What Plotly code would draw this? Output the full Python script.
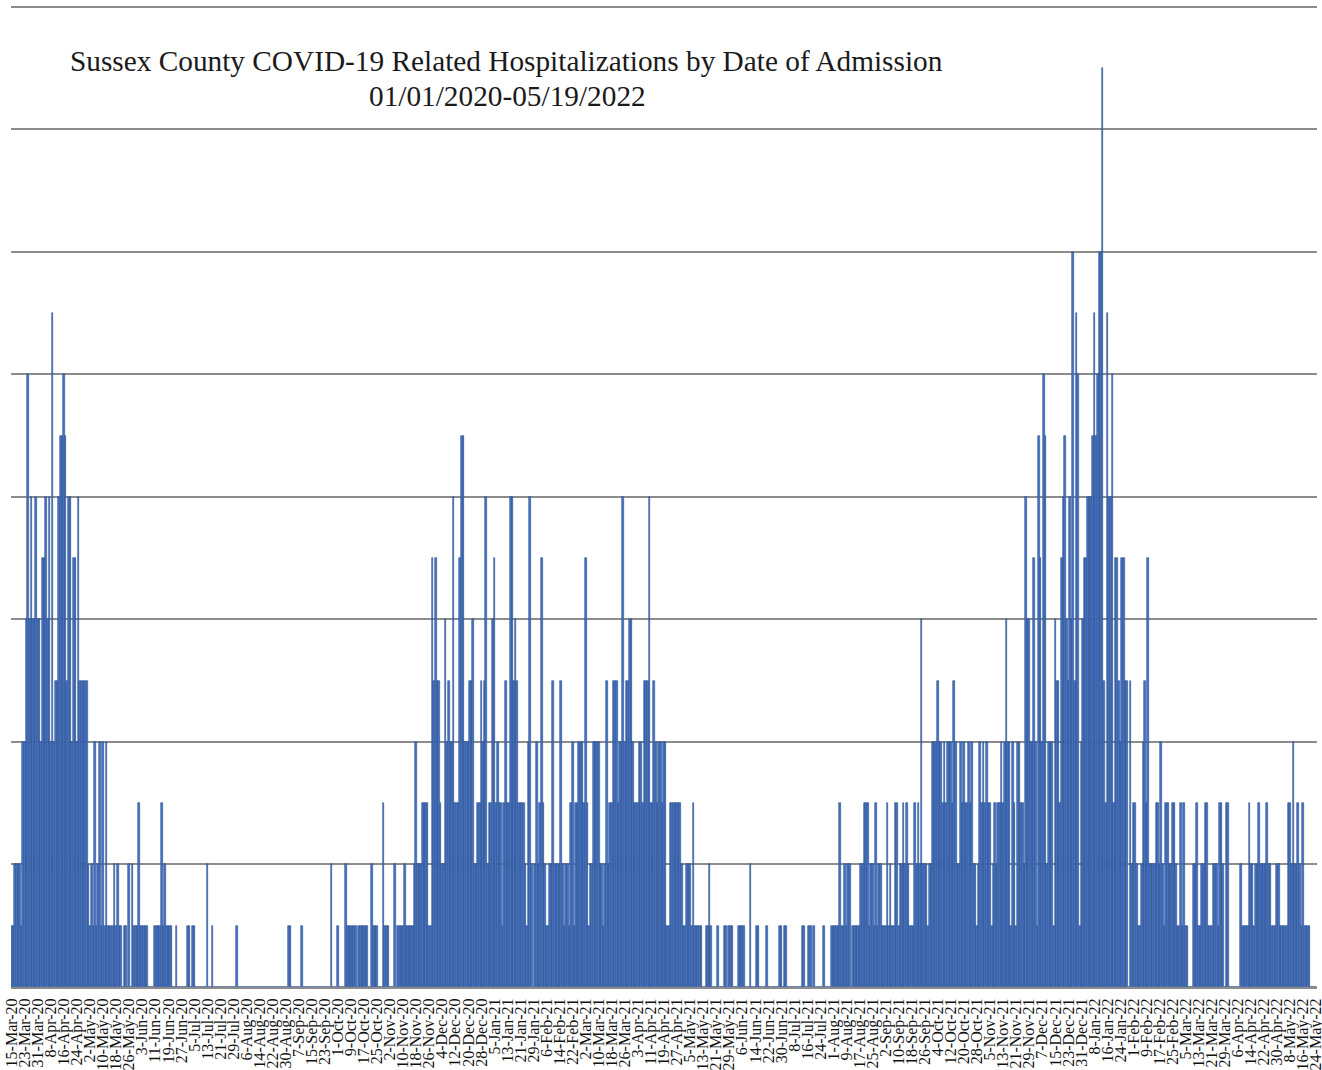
import pandas as pd
import plotly.graph_objects as go

# ---- categories: one per day of admission ----
start_date = "2020-03-15"
end_date = "2022-05-24"
dates = pd.date_range(start_date, end_date, freq="D")
categories = [f"{d.day}-{d.strftime('%b-%y')}" for d in dates]

# ---- daily admissions, by period ----
spring_2020 = [1,1,2,2,2,2,1,4,4,6,
               10,6,8,6,6,8,6,6,4,7,
               7,8,6,8,4,11,4,5,5,8,
               9,9,10,9,5,8,8,4,7,7,
               4,8,5,5,5,5,5,2,1,2,
               1,4,1,2,4,1,4,1,4,1,
               1,1,1,2,1,2,1]
summer_2020 = [1,0,1,1,0,2,0,2,1,1,
               1,3,1,1,1,1,1,0,0,0,
               0,1,1,1,1,3,1,2,1,1,
               1,1,0,0,1,0,0,0,0,0,
               0,1,1,0,1,1,0,0,0,0,
               0,0,0,2,0,0,1,0,0,0,
               0,0,0,0,0,0,0,0,0,0,
               0,1,0,0,0,0,0,0,0,0,
               0,0,0,0,0,0,0,0,0,0,
               0,0,0,0,0,0,0,0,0,0,
               0,0,0,1,1,0,0,0,0,0,
               0,1,0,0,0,0,0,0,0,0,
               0,0,0,0,0,0,0,0,0,2,
               0,0,0,1,0,0,0,0]
autumn_2020 = [2,1,1,1,1,1,1,0,1,1,
               1,1,1,1,0,0,2,1,1,1,
               0,0,0,3,1,1,1,0,0,0,
               2,0,1,1,1,1,2,1,1]
winter_2020 = [1,1,1,2,4,2,2,2,3,3,
               3,3,1,1,7,5,7,5,5,3,
               2,2,6,4,5,4,4,8,3,3,
               3,7,9,9,4,4,4,5,5,6,
               2,2,3,3,5,4,5,8,2,3,
               3,6,7,3,4,3,3,1,3,5,
               3,3,8,8,5,6,5,3,3,3,
               3,2,1,4,8,2,0,2,4,2,
               3,7,3,2,1,1,2,2,5]
spring_2021 = [2,2,2,2,5,2,1,2,2,1,
               3,4,1,3,3,4,4,4,3,7,
               3,1,2,2,4,4,4,4,2,2,
               1,2,5,2,3,3,5,5,5,3,
               4,4,8,4,5,5,6,6,4,3,
               3,3,4,4,3,5,5,5,8,3,
               3,5,4,3,4,4,3,4,4,1,
               1,3,3,3,3,3,3,3,2,1,
               1,2,2,2,1,3,1,1,1]
summer_2021 = [1,1,0,0,1,1,2,1,0,0,
               0,1,0,0,0,1,1,0,1,1,
               1,0,0,0,1,1,1,1,0,0,
               0,2,0,0,0,1,1,0,0,0,
               0,1,0,0,0,0,0,0,0,1,
               1,0,1,1,0,0,0,0,0,0,
               0,0,0,1,1,0,0,1,1,0,
               1,0,0,0,0,0,1,0,0,0,
               0,1,1,1,1,1,3,1,1,2,
               1,2,2,0,1,1,1,1,1,2,
               2,3,3,3,1,2,2,1,3,1,
               2,2,1,1,1,3,1,2,1,1]
autumn_2021 = [3,3,1,2,2,3,2,3,2,1,
               1,1,3,2,3,2,6,2,2,2,
               1,2,2,4,4,4,5,4,4,3,
               4,3,4,4,4,3,5,4,2,2,
               4,3,4,3,3,4,3,4,2,2,
               1,2,4,3,4,3,4,3,3,1,
               2,3,2,3,3,4,3,4,6,4,
               4,1,4,3,1,4]
december_2021 = [4,3,3,2,8,6,6,4,4,7,
                 4,1,9,7,4,10,9,2,4,4,
                 4,1,6,5,5,3,7,8,9,6,
                 5,8,6,12,5,11,10,1,4,6,
                 7,7,8]
january_2022 = [8,8,9,11,9,10,12,12,15,5,
                3,11,8,8,10,3,7,7,5,4,
                7,7,5,5,0,5,2,3,3,2,
                1,1,2,4]
spring_2022 = [5,3,7,2,2,2,2,3,3,2,
               4,2,1,3,3,2,2,3,3,2,
               1,1,3,1,3,1,1,0,0,0,
               2,2,3,1,1,2,2,3,3,1,
               1,1,2,2,2,1,3,3,2,0,
               3,3,0,0,0,0,0,0,0,2,
               1,1,1,1,3,2,2,1,2,2,
               3,2,2,2,2,3,2,2,1,1,
               1,2,2,1,1,1,1,1,3,3,
               2,4,2,2,3,2,1,3,1,1,
               1,1,0,0,0,0]

admissions = (spring_2020 + summer_2020 + autumn_2020 + winter_2020 + spring_2021
              + summer_2021 + autumn_2021 + december_2021 + january_2022 + spring_2022)

n = min(len(categories), len(admissions))
categories = categories[:n]
admissions = admissions[:n]

# tick labels every 8th day
tick_step = 8
tick_vals = categories[::tick_step]
tick_text = categories[::tick_step]

title_line1 = "Sussex County COVID-19 Related Hospitalizations by Date of Admission"
title_line2 = "01/01/2020-05/19/2022"

serif = "Liberation Serif, Times New Roman, serif"

fig = go.Figure(
    go.Bar(
        x=categories,
        y=admissions,
        marker=dict(color="#4472C4", line=dict(color="#2F528F", width=0.6)),
        hoverinfo="x+y",
    )
)

W, H = 1322, 1070
ML, MR, MT, MB = 11, 5, 5, 83
plot_h = H - MT - MB
plot_w = W - ML - MR

fig.update_layout(
    width=W,
    height=H,
    margin=dict(l=ML, r=MR, t=MT, b=MB, autoexpand=False),
    paper_bgcolor="white",
    plot_bgcolor="white",
    bargap=0.0,
    showlegend=False,
    annotations=[
        dict(text=title_line1, xref="paper", yref="paper",
             x=(506.5 - ML) / plot_w, y=(H - MB - 61) / plot_h,
             xanchor="center", yanchor="middle", showarrow=False,
             font=dict(family=serif, size=29.3, color="#1a1a1a")),
        dict(text=title_line2, xref="paper", yref="paper",
             x=(507.5 - ML) / plot_w, y=(H - MB - 96) / plot_h,
             xanchor="center", yanchor="middle", showarrow=False,
             font=dict(family=serif, size=29.3, color="#1a1a1a")),
    ],
)

fig.update_xaxes(
    type="category",
    range=[-0.5, n - 0.5],
    tickmode="array",
    tickvals=tick_vals,
    ticktext=tick_text,
    tickangle=-90,
    tickfont=dict(family=serif, size=16, color="#111111"),
    ticks="",
    ticklabelstandoff=3,
    automargin=False,
    showgrid=False,
    showline=True,
    linecolor="#8c8c8c",
    linewidth=2,
)

fig.update_yaxes(
    range=[0, 16.03],
    dtick=2,
    showgrid=True,
    gridcolor="#8c8c8c",
    gridwidth=2,
    showticklabels=False,
    zeroline=False,
    showline=False,
    ticks="",
    automargin=False,
)

fig.write_html(
    "out.html",
    config={"displayModeBar": False},
    post_script="document.body.style.margin='0px';document.body.style.padding='0px';",
)
